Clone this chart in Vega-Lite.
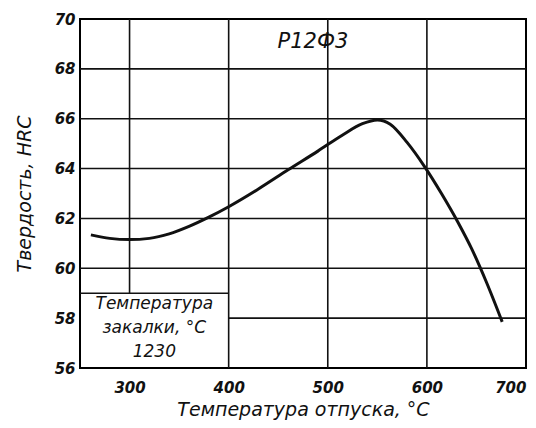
{
  "$schema": "https://vega.github.io/schema/vega-lite/v6.json",
  "width": 446,
  "height": 349,
  "autosize": "none",
  "padding": {"left": 80, "top": 19, "right": 10, "bottom": 60},
  "background": "white",
  "config": {
    "view": {"stroke": "black", "strokeWidth": 2},
    "font": "DejaVu Sans",
    "axis": {
      "grid": false, "ticks": false, "domain": false,
      "labelFont": "DejaVu Sans", "labelFontStyle": "italic", "labelFontWeight": "bold",
      "labelFontSize": 15, "labelColor": "#111",
      "titleFont": "DejaVu Sans", "titleFontStyle": "italic", "titleFontWeight": "normal",
      "titleFontSize": 19, "titleColor": "#111"
    }
  },
  "datasets": {
    "curve": [
      {"t": 261, "hrc": 61.34}, {"t": 280, "hrc": 61.2}, {"t": 300, "hrc": 61.15},
      {"t": 320, "hrc": 61.2}, {"t": 340, "hrc": 61.38}, {"t": 360, "hrc": 61.68},
      {"t": 380, "hrc": 62.05}, {"t": 400, "hrc": 62.47}, {"t": 430, "hrc": 63.18},
      {"t": 460, "hrc": 63.95}, {"t": 490, "hrc": 64.7}, {"t": 515, "hrc": 65.35},
      {"t": 535, "hrc": 65.8}, {"t": 550, "hrc": 65.95}, {"t": 563, "hrc": 65.78},
      {"t": 580, "hrc": 65.05}, {"t": 598, "hrc": 64.06}, {"t": 615, "hrc": 62.98},
      {"t": 632, "hrc": 61.8}, {"t": 645, "hrc": 60.8}, {"t": 660, "hrc": 59.45},
      {"t": 676, "hrc": 57.85}
    ],
    "grid": [
      {"x": 400, "x2": 700, "y": 58, "y2": 58},
      {"x": 250, "x2": 700, "y": 60, "y2": 60},
      {"x": 250, "x2": 700, "y": 62, "y2": 62},
      {"x": 250, "x2": 700, "y": 64, "y2": 64},
      {"x": 250, "x2": 700, "y": 66, "y2": 66},
      {"x": 250, "x2": 700, "y": 68, "y2": 68},
      {"x": 250, "x2": 400, "y": 59, "y2": 59},
      {"x": 300, "x2": 300, "y": 59, "y2": 70},
      {"x": 400, "x2": 400, "y": 56, "y2": 70},
      {"x": 500, "x2": 500, "y": 56, "y2": 70},
      {"x": 600, "x2": 600, "y": 56, "y2": 70}
    ],
    "box": [
      {"t": 325, "hrc": 58.55, "txt": "Температура"},
      {"t": 325, "hrc": 57.6, "txt": "закалки, °С"},
      {"t": 325, "hrc": 56.65, "txt": "1230"}
    ],
    "label": [{"t": 485, "hrc": 69.07, "txt": "Р12Ф3"}]
  },
  "layer": [
    {
      "data": {"name": "grid"},
      "mark": {"type": "rule", "color": "#111", "strokeWidth": 1.6},
      "encoding": {
        "x": {"field": "x", "type": "quantitative",
              "scale": {"domain": [250, 700], "nice": false, "zero": false},
              "axis": {"values": [300, 400, 500, 600, 700], "labelPadding": 12,
                       "title": "Температура   отпуска,  °С", "titlePadding": 5}},
        "x2": {"field": "x2"},
        "y": {"field": "y", "type": "quantitative",
              "scale": {"domain": [56, 70], "nice": false, "zero": false},
              "axis": {"values": [56, 58, 60, 62, 64, 66, 68, 70], "labelPadding": 5,
                       "title": "Твердость, HRC", "titlePadding": 20}},
        "y2": {"field": "y2"}
      }
    },
    {
      "data": {"name": "curve"},
      "mark": {"type": "line", "color": "#111", "strokeWidth": 3, "interpolate": "monotone"},
      "encoding": {
        "x": {"field": "t", "type": "quantitative"},
        "y": {"field": "hrc", "type": "quantitative"}
      }
    },
    {
      "data": {"name": "box"},
      "mark": {"type": "text", "font": "DejaVu Sans", "fontStyle": "italic", "fontSize": 17, "color": "#111"},
      "encoding": {
        "x": {"field": "t", "type": "quantitative"},
        "y": {"field": "hrc", "type": "quantitative"},
        "text": {"field": "txt"}
      }
    },
    {
      "data": {"name": "label"},
      "mark": {"type": "text", "font": "DejaVu Sans", "fontStyle": "italic", "fontSize": 21, "color": "#111"},
      "encoding": {
        "x": {"field": "t", "type": "quantitative"},
        "y": {"field": "hrc", "type": "quantitative"},
        "text": {"field": "txt"}
      }
    }
  ]
}
